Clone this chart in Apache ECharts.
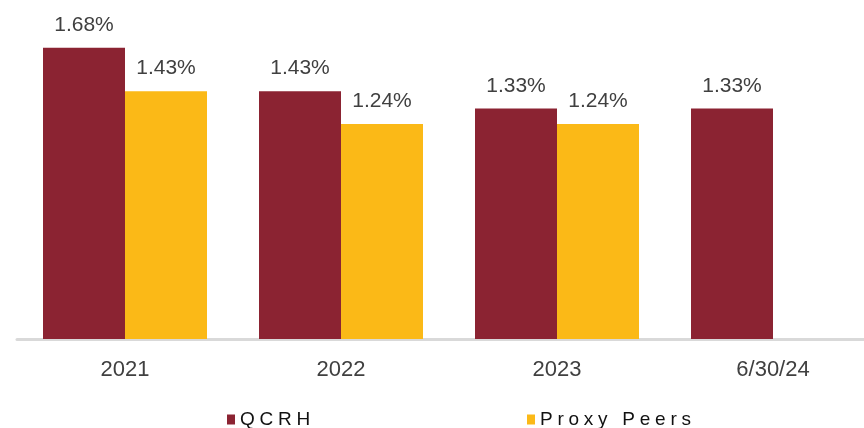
<!DOCTYPE html>
<html>
<head>
<meta charset="utf-8">
<script src="https://cdn.jsdelivr.net/npm/echarts@6/dist/echarts.min.js"></script>
<style>
  html, body { margin: 0; padding: 0; background: #fff; }
  #main { width: 864px; height: 428px; }
</style>
</head>
<body>
<div id="main"></div>
<script>
// categories and values
var categories = ["2021", "2022", "2023", "6/30/24"];
var qcrh = [1.68, 1.43, 1.33, 1.33];
var proxyPeers = [1.43, 1.24, 1.24, null];

var RED = "#8B2332";
var GOLD = "#FBB917";
var TEXT = "#404040";

// spread the legend letters apart like the original
function spaced(name) {
  return name.split("").join("\u2005");
}

var myChart = echarts.init(document.getElementById("main"));

var labelStyle = {
  show: true,
  position: "top",
  distance: 12,
  color: TEXT,
  fontSize: 21,
  fontFamily: "Liberation Sans, Arial, sans-serif",
  formatter: function (p) {
    return p.value == null ? "" : p.value.toFixed(2) + "%";
  }
};

myChart.setOption({
  animation: false,
  grid: { left: 17, width: 864, top: 27, bottom: 89, outerBoundsMode: "none" },
  legend: [
    {
      data: ["QCRH"],
      left: 222,
      top: 405,
      icon: "rect",
      itemWidth: 8,
      itemHeight: 10,
      itemGap: 4,
      formatter: spaced,
      textStyle: { color: "#111", fontSize: 19, fontFamily: "Liberation Sans, Arial, sans-serif" }
    },
    {
      data: ["Proxy Peers"],
      left: 522,
      top: 405,
      icon: "rect",
      itemWidth: 8,
      itemHeight: 10,
      itemGap: 4,
      formatter: spaced,
      textStyle: { color: "#111", fontSize: 19, fontFamily: "Liberation Sans, Arial, sans-serif" }
    }
  ],
  xAxis: {
    type: "category",
    data: categories,
    axisTick: { show: false },
    axisLine: { lineStyle: { color: "#d9d9d9", width: 3 } },
    axisLabel: {
      color: TEXT,
      fontSize: 22,
      margin: 20,
      fontFamily: "Liberation Sans, Arial, sans-serif"
    }
  },
  yAxis: {
    type: "value",
    min: 0,
    max: 1.8,
    show: false,
    splitLine: { show: false }
  },
  series: [
    {
      name: "QCRH",
      type: "bar",
      data: qcrh,
      barWidth: 82,
      barGap: "0%",
      itemStyle: { color: RED },
      label: labelStyle
    },
    {
      name: "Proxy Peers",
      type: "bar",
      data: proxyPeers,
      barWidth: 82,
      itemStyle: { color: GOLD },
      label: labelStyle
    }
  ]
});

window.addEventListener("resize", function () {
  myChart.resize();
});
</script>
</body>
</html>
